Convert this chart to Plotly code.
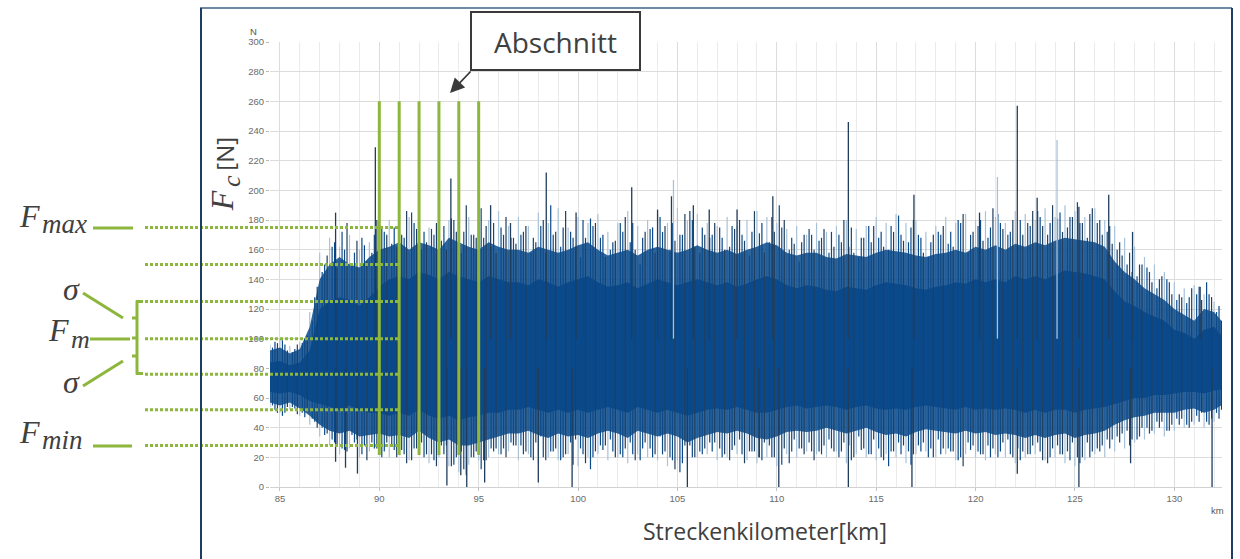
import plotly.graph_objects as go

# ---------------- data ----------------
km = [84.5, 85.0, 85.5, 86.0, 86.5, 87.0, 87.5, 88.0, 88.5, 89.0, 89.5, 90.0, 90.5, 91.0, 91.5,
      92.0, 92.5, 93.0, 93.5, 94.0, 94.5, 95.0, 95.5, 96.0, 96.5,
      97.0, 97.5, 98.0, 98.5, 99.0, 99.5, 100.0, 100.5, 101.0, 101.5, 102.0, 102.5, 103.0, 103.5,
      104.0, 104.5, 105.0, 105.5, 106.0, 106.5, 107.0, 107.5, 108.0, 108.5, 109.0, 109.5, 110.0,
      110.5, 111.0, 111.5, 112.0, 112.5, 113.0, 113.5, 114.0, 114.5, 115.0, 115.5, 116.0, 116.5,
      117.0, 117.5, 118.0, 118.5, 119.0, 119.5, 120.0, 120.5, 121.0, 121.5, 122.0, 122.5, 123.0,
      123.5, 124.0, 124.5, 125.0, 125.5, 126.0, 126.5, 127.0,
      127.5, 128.0, 128.5, 129.0, 129.5, 130.0, 130.5, 131.0, 131.5, 132.0, 132.5]

core_hi = [84, 85, 82, 84, 92, 120, 125, 128, 126, 122, 128, 135, 140, 142, 140, 145, 143, 140, 145, 142,
           140, 138, 142, 140, 138,
           138, 136, 140, 138, 135, 138, 140, 142, 138, 135, 136, 138, 134, 137, 140, 138, 136, 138, 140, 138,
           136, 138, 135, 137, 140, 142, 140, 136, 134, 136, 135, 133, 132, 135, 134, 133, 136, 138, 137, 136,
           134, 133, 135, 136, 138, 137, 140, 138, 140, 138, 142, 140, 142, 140, 143, 146, 145, 144, 142, 140,
           132,
           125, 122, 118, 115, 112, 106, 104, 100, 106, 108, 100]
core_lo = [64, 63, 64, 62, 58, 56, 54, 52, 55, 52, 50, 50, 48, 50, 48, 52, 48, 46, 48, 45, 47, 48, 50, 50, 52,
           52, 54, 52, 50, 52, 50, 52, 50, 52, 54, 52, 50, 54, 52, 50, 52, 50, 48, 50, 52,
           53, 52, 54, 52, 50, 50, 52, 54, 55, 53, 54, 55, 54, 52, 54, 55, 53, 52, 53, 52,
           54, 55, 54, 53, 52, 54, 52, 53, 52, 53, 52, 50, 52, 50, 52, 52, 50, 52, 53, 54,
           56,
           58, 60, 60, 62, 62, 63, 64, 64, 63, 65, 66]
fuzz_hi = [92, 94, 90, 93, 108, 140, 150, 155, 150, 148, 155, 160, 162, 165, 160, 165, 163, 160, 168, 165,
           162, 160, 165, 162, 160,
           160, 158, 162, 160, 158, 160, 163, 165, 160, 156, 158, 160, 156, 160, 162, 160, 158, 160, 163, 160,
           158, 160, 157, 160, 162, 165, 163, 158, 156, 158, 158, 155, 154, 157, 156, 155, 158, 160, 159, 158,
           156, 155, 157, 158, 160, 158, 162, 160, 163, 160, 164, 162, 165, 163, 166, 168, 167, 166, 165, 162,
           152,
           145, 140, 134, 130, 126, 120, 116, 112, 120, 118, 110]
fuzz_lo = [57, 55, 57, 53, 48, 42, 38, 36, 38, 34, 35, 36, 34, 35, 33, 38, 33, 30, 32, 28, 28, 30, 32, 34, 36,
           36, 38, 35, 33, 36, 34, 35, 33, 36, 38, 36, 33, 38, 36, 34, 36, 34, 30, 33, 35,
           37, 36, 38, 36, 33, 32, 34, 37, 38, 37, 38, 40, 38, 36, 38, 40, 37, 35, 36, 34,
           37, 39, 38, 37, 36, 38, 36, 37, 35, 36, 35, 33, 35, 33, 35, 36, 33, 35, 36, 38,
           42,
           45, 47, 48, 50, 50, 50, 52, 53, 50, 52, 56]
light_hi = [96, 100, 95, 98, 118, 158, 168, 162, 170, 160, 165, 176, 180, 172, 182, 178, 175, 184, 180, 176,
            182, 174, 180, 186, 176,
            182, 176, 185, 178, 188, 175, 182, 178, 184, 172, 178, 186, 176, 180, 184, 178, 188, 180, 184, 178,
            176, 182, 176, 180, 186, 182, 178, 174, 176, 170, 178, 172, 176, 180, 174, 176, 182, 178, 184, 178,
            180, 172, 176, 182, 178, 184, 180, 186, 182, 178, 186, 184, 180, 188, 182, 190, 186, 182, 188, 180,
            176,
            168, 162, 155, 150, 145, 138, 134, 136, 130, 125, 118]
light_lo = [54, 50, 52, 48, 42, 34, 28, 22, 26, 20, 24, 22, 20, 26, 18, 22, 16, 20, 14, 10, 15, 18, 20, 22, 24,
            18, 22, 16, 20, 18, 22, 14, 20, 22, 18, 20, 16, 22, 20, 18, 14, 18, 12, 20, 22,
            18, 20, 22, 18, 16, 20, 14, 22, 20, 24, 22, 20, 24, 16, 22, 20, 18, 22, 20, 16,
            22, 24, 20, 22, 18, 22, 20, 18, 22, 20, 16, 20, 22, 18, 20, 16, 14, 18, 22, 20,
            24,
            26, 30, 32, 36, 34, 38, 40, 42, 40, 44, 48]

km_q1 = [84.625, 85.125, 85.625, 86.125, 86.625, 87.125, 87.625, 88.125, 88.625, 89.125, 89.625, 90.125,
         90.625, 91.125, 91.625, 92.125, 92.625, 93.125, 93.625, 94.125, 94.625, 95.125, 95.625, 96.125,
         96.625, 97.125, 97.625, 98.125, 98.625, 99.125, 99.625, 100.125, 100.625, 101.125, 101.625,
         102.125, 102.625, 103.125, 103.625, 104.125, 104.625, 105.125, 105.625, 106.125, 106.625,
         107.125, 107.625, 108.125, 108.625, 109.125, 109.625, 110.125, 110.625, 111.125, 111.625,
         112.125, 112.625, 113.125, 113.625, 114.125, 114.625, 115.125, 115.625, 116.125, 116.625,
         117.125, 117.625, 118.125, 118.625, 119.125, 119.625, 120.125, 120.625, 121.125, 121.625,
         122.125, 122.625, 123.125, 123.625, 124.125, 124.625, 125.125, 125.625, 126.125, 126.625,
         127.125, 127.625, 128.125, 128.625, 129.125, 129.625, 130.125, 130.625, 131.125, 131.625, 132.125]
q1_hi = [94, 99, 91, 97, 112,
         145, 162, 172, 150, 168, 158, 176, 164, 170, 185, 160, 174, 166, 181, 158, 170, 188, 162, 175, 168,
         170, 158, 176, 190, 162, 172, 155, 181, 168, 160, 178, 165, 150, 174, 182, 160, 170, 186, 158, 168,
         175, 162, 180, 156, 171, 165, 190, 160, 152, 174, 166, 158, 170, 162, 155, 176, 168, 160, 183, 165,
         170, 155, 172, 164, 180, 158, 176, 168, 184, 170, 162, 178, 186, 170, 181, 175, 192, 168, 178, 172,
         160, 150, 142, 148, 134, 140, 126, 124, 130, 138, 118]
q1_lo = [55, 48, 54, 50, 46,
         40, 32, 26, 35, 22, 30, 20, 28, 25, 18, 30, 22, 28, 14, 24, 20, 12, 26, 22, 30,
         28, 20, 34, 24, 18, 30, 26, 12, 28, 32, 22, 30, 18, 26, 34, 20, 10, 28, 24, 30,
         26, 18, 32, 24, 20, 28, 36, 16, 26, 30, 24, 32, 20, 28, 34, 22, 26, 14, 30, 24,
         28, 20, 32, 26, 18, 30, 24, 28, 20, 32, 26, 22, 30, 16, 28, 24, 20, 30, 26, 32,
         34, 38, 32, 40, 44, 38, 46, 42, 48, 44, 50]

km_q2 = [84.75, 85.25, 85.75, 86.25, 86.75, 87.25, 87.75, 88.25, 88.75, 89.25, 89.75, 90.25, 90.75,
         91.25, 91.75, 92.25, 92.75, 93.25, 93.75, 94.25, 94.75, 95.25, 95.75, 96.25, 96.75,
         97.25, 97.75, 98.25, 98.75, 99.25, 99.75, 100.25, 100.75, 101.25, 101.75, 102.25, 102.75,
         103.25, 103.75, 104.25, 104.75, 105.25, 105.75, 106.25, 106.75, 107.25, 107.75, 108.25,
         108.75, 109.25, 109.75, 110.25, 110.75, 111.25, 111.75, 112.25, 112.75, 113.25, 113.75,
         114.25, 114.75, 115.25, 115.75, 116.25, 116.75, 117.25, 117.75, 118.25, 118.75, 119.25,
         119.75, 120.25, 120.75, 121.25, 121.75, 122.25, 122.75, 123.25, 123.75, 124.25, 124.75,
         125.25, 125.75, 126.25, 126.75,
         127.25, 127.75, 128.25, 128.75, 129.25, 129.75, 130.25, 130.75, 131.25, 131.75, 132.25]
q2_hi = [98, 96, 93, 100, 128, 150, 165, 160, 158, 163, 170, 172, 175, 168, 178, 172, 170, 176, 180, 172,
         170, 168, 178, 170, 168,
         172, 168, 180, 170, 175, 168, 180, 176, 170, 165, 172, 178, 168, 175, 172, 178, 170, 180, 175, 170,
         168, 176, 170, 172, 178, 182, 175, 168, 165, 170, 168, 172, 165, 175, 168, 165, 172, 176, 170, 175,
         168, 165, 170, 172, 178, 170, 180, 175, 178, 172, 180, 176, 182, 178, 185, 182, 178, 184, 180, 176,
         165, 158, 150, 145, 140, 138, 130, 128, 135, 130, 122]
q2_lo = [52, 50, 53, 47, 44, 35, 30, 25, 30, 28, 26, 24, 25, 22, 26, 20, 18, 22, 15, 12, 20, 18, 24, 26, 28,
         22, 18, 20, 24, 20, 15, 22, 20, 25, 24, 20, 22, 26, 20, 22, 18, 16, 20, 22, 24,
         20, 25, 22, 24, 18, 20, 15, 24, 26, 24, 22, 26, 24, 18, 25, 22, 20, 24, 22, 15,
         24, 26, 22, 24, 20, 25, 22, 20, 24, 22, 18, 22, 24, 20, 22, 18, 16, 20, 24, 26,
         30, 28, 34, 36, 40, 38, 42, 40, 44, 42, 46]

km_q3 = [84.875, 85.375, 85.875, 86.375, 86.875, 87.375, 87.875, 88.375, 88.875, 89.375, 89.875, 90.375,
         90.875, 91.375, 91.875, 92.375, 92.875, 93.375, 93.875, 94.375, 94.875, 95.375, 95.875, 96.375,
         96.875, 97.375, 97.875, 98.375, 98.875, 99.375, 99.875, 100.375, 100.875, 101.375, 101.875,
         102.375, 102.875, 103.375, 103.875, 104.375, 104.875, 105.375, 105.875, 106.375, 106.875,
         107.375, 107.875, 108.375, 108.875, 109.375, 109.875, 110.375, 110.875, 111.375, 111.875,
         112.375, 112.875, 113.375, 113.875, 114.375, 114.875, 115.375, 115.875, 116.375, 116.875,
         117.375, 117.875, 118.375, 118.875, 119.375, 119.875, 120.375, 120.875, 121.375, 121.875,
         122.375, 122.875, 123.375, 123.875, 124.375, 124.875, 125.375, 125.875, 126.375, 126.875,
         127.375, 127.875, 128.375, 128.875, 129.375, 129.875, 130.375, 130.875, 131.375, 131.875, 132.375]
q3_hi = [97, 92, 96, 102, 135,
         156, 148, 178, 166, 152, 180, 170, 162, 186, 174, 165, 178, 160, 172, 190, 168, 176, 158, 182, 164,
         176, 165, 158, 172, 186, 162, 168, 178, 155, 166, 182, 160, 172, 158, 176, 166, 184, 162, 170, 178,
         160, 174, 166, 186, 158, 172, 180, 164, 170, 160, 174, 162, 180, 158, 168, 176, 162, 172, 166, 180,
         158, 170, 176, 162, 184, 172, 166, 188, 174, 180, 170, 186, 176, 190, 172, 182, 178, 188, 170, 164,
         156, 145, 150, 138, 142, 130, 128, 134, 126, 128, 112]
q3_lo = [50, 54, 49, 52, 40,
         36, 28, 24, 32, 18, 26, 30, 20, 16, 26, 22, 14, 28, 20, 8, 24, 18, 26, 20, 28,
         24, 30, 18, 26, 22, 32, 16, 24, 28, 20, 26, 18, 30, 22, 24, 12, 28, 20, 26, 30,
         22, 28, 16, 24, 30, 20, 26, 32, 22, 18, 28, 24, 30, 20, 26, 32, 18, 24, 28, 22,
         30, 20, 26, 24, 14, 28, 22, 26, 30, 20, 24, 28, 18, 26, 22, 30, 20, 24, 28, 32,
         36, 32, 40, 38, 44, 42, 46, 44, 50, 46, 52]

# individual tall spikes and deep dips
peak_km = [87.8, 89.8, 93.6, 95.6, 96.6, 98.4, 99.9, 102.7, 104.0, 104.7, 105.8, 106.6, 108.0, 109.8,
           113.6, 116.9, 120.2, 122.1, 123.1, 125.2, 126.7, 127.9, 131.3]
peak_val = [185, 229, 208, 190, 178, 212, 185, 202, 187, 196, 190, 187, 187, 196,
            246, 197, 185, 257, 195, 189, 197, 172, 135]
light_peak_km = [104.8, 121.1, 124.1]
light_peak_val = [207, 209, 234]
dip_km = [87.8, 88.3, 88.9, 93.4, 94.1, 94.4, 95.3, 98.0, 99.7, 105.5, 109.1, 110.1, 113.6, 116.8,
          122.1, 125.2, 127.8, 131.9]
dip_val = [17, 13, 9, 1, 8, 0, 3, 3, 0, 0, 20, 0, 0, 0, 9, 0, 16, 0]

abschnitt_km = [90, 91, 92, 93, 94, 95]
abschnitt_y = [21.5, 260]
stat_levels = [175, 150, 125, 100, 76, 52, 28]

y_ticks = [0, 20, 40, 60, 80, 100, 120, 140, 160, 180, 200, 220, 240, 260, 280, 300]
x_ticks = [85, 90, 95, 100, 105, 110, 115, 120, 125, 130]

# ---------------- styling ----------------
W, H = 1240, 559
ML, MR, MT, MB = 270, 18, 42, 72
PW, PH = W - ML - MR, H - MT - MB

def X(px):
    return (px - ML) / PW

def Y(py):
    return (H - MB - py) / PH

GREEN = "#8DB63C"
CORE = "#0A4A8C"
FUZZ = "rgba(10,74,140,0.86)"
SIG = "#0b4988"
NAVY = "#203f5e"
DARK_SP = "#1f3d5c"
LIGHT_SP = "#a9c2d8"
TXT = "#404040"


def segments(xs, lo, hi):
    sx, sy = [], []
    for x, a, b in zip(xs, lo, hi):
        sx += [x, x, None]
        sy += [a, b, None]
    return sx, sy


fig = go.Figure()

def spikes(xs, lo, hi, color, width=1.2):
    sx, sy = segments(xs, lo, hi)
    fig.add_trace(go.Scatter(x=sx, y=sy, mode="lines", line=dict(color=color, width=width),
                             hoverinfo="skip"))

spikes(km, light_lo, light_hi, LIGHT_SP)
fig.add_trace(go.Scatter(x=km, y=fuzz_lo, mode="lines", line=dict(width=0), hoverinfo="skip"))
fig.add_trace(go.Scatter(x=km, y=fuzz_hi, mode="lines", line=dict(width=0), fill="tonexty",
                         fillcolor=FUZZ, hoverinfo="skip"))
fig.add_trace(go.Scatter(x=km, y=core_lo, mode="lines", line=dict(width=0), hoverinfo="skip"))
fig.add_trace(go.Scatter(x=km, y=core_hi, mode="lines", line=dict(width=0), fill="tonexty",
                         fillcolor=CORE, hoverinfo="skip"))
spikes(km_q1, q1_lo, q1_hi, SIG)
spikes(km_q2, q2_lo, q2_hi, SIG)
spikes(km_q3, q3_lo, q3_hi, NAVY)
spikes(peak_km, [100] * len(peak_km), peak_val, DARK_SP, 1.3)
spikes(light_peak_km, [100] * len(light_peak_km), light_peak_val, LIGHT_SP, 1.3)
spikes(dip_km, dip_val, [80] * len(dip_km), DARK_SP, 1.3)

shapes = []
for k in abschnitt_km:
    shapes.append(dict(type="line", xref="x", yref="y", x0=k, x1=k, y0=abschnitt_y[0], y1=abschnitt_y[1],
                       line=dict(color=GREEN, width=3), layer="above"))
for lv in stat_levels:
    shapes.append(dict(type="line", xref="paper", yref="y", x0=X(145), x1=X(400), y0=lv, y1=lv,
                       line=dict(color=GREEN, width=3, dash="3px,2px"), layer="above"))

def seg(x0, y0, x1, y1, w=3):
    shapes.append(dict(type="line", xref="paper", yref="paper", x0=X(x0), y0=Y(y0), x1=X(x1), y1=Y(y1),
                       line=dict(color=GREEN, width=w), layer="above"))

seg(93, 228, 133, 228)
seg(93, 446, 132, 446)
seg(83, 293, 123, 318)
seg(90, 339, 130, 339)
seg(83, 386, 123, 361)
seg(137, 300.5, 137, 374.5)
seg(136, 301.5, 143, 301.5)
seg(136, 373.5, 143, 373.5)
seg(132, 318, 138, 318)
seg(132, 338, 138, 338)
seg(132, 356, 138, 356)

shapes.append(dict(type="line", xref="paper", yref="paper", x0=X(200), x1=X(1232), y0=Y(8), y1=Y(8),
                   line=dict(color="#6f8aa5", width=2), layer="above"))
shapes.append(dict(type="line", xref="paper", yref="paper", x0=X(201), x1=X(201), y0=Y(8), y1=Y(575),
                   line=dict(color="#1f3d63", width=2), layer="above"))
shapes.append(dict(type="line", xref="paper", yref="paper", x0=X(1232), x1=X(1232), y0=Y(8), y1=Y(575),
                   line=dict(color="#1f3d63", width=2), layer="above"))
shapes.append(dict(type="rect", xref="paper", yref="paper", x0=X(471), x1=X(640), y0=Y(70), y1=Y(12),
                   line=dict(color="#3a3a3a", width=2), fillcolor="white", layer="above"))

SERIF = "Liberation Serif"
SANS = "Open Sans"
ann = []

def txt(t, x, y, size, family=SANS, xanchor="center", angle=0, color=TXT, pad=1):
    ann.append(dict(text=t, x=X(x), y=Y(y), xref="paper", yref="paper", showarrow=False,
                    xanchor=xanchor, yanchor="middle", textangle=angle, borderpad=pad,
                    font=dict(family=family, size=size, color=color)))

txt("Abschnitt", 555.5, 42, 28)
ann.append(dict(text="", x=X(450), y=Y(93), xref="paper", yref="paper", showarrow=True,
                ax=22, ay=-23, arrowhead=2, arrowsize=1.6, arrowwidth=1.8, arrowcolor="#3a3a3a"))

txt("Streckenkilometer[km]", 764.5, 531, 23)
txt("N", 253.5, 31.5, 9.5, family="Liberation Sans", color="#555555")
txt("km", 1217.5, 510.5, 9.5, family="Liberation Sans", color="#555555")

# y title
txt("[N]", 223.7, 154, 24, angle=-90)
txt("<i>F</i>", 222.3, 201, 32, family=SERIF, angle=-90)
txt("<i>c</i>", 231, 181, 26, family=SERIF, angle=-90)

# left legend labels
def fsub(sub, f_right, base_f, base_s, s_size):
    txt("<i>F</i>", f_right, base_f - 10.8, 32, family=SERIF, xanchor="right", pad=0)
    txt("<i>" + sub + "</i>", f_right, base_s - 0.3375 * s_size, s_size, family=SERIF,
        xanchor="left", pad=0)

fsub("max", 41, 227, 233.5, 27)
txt("<i>σ</i>", 61, 289.2, 32, family=SERIF, xanchor="left")
fsub("m", 70, 341, 348, 26)
txt("<i>σ</i>", 61, 382.2, 32, family=SERIF, xanchor="left")
fsub("min", 41, 443, 449, 27)

fig.update_layout(
    width=W, height=H, margin=dict(l=ML, r=MR, t=MT, b=MB),
    paper_bgcolor="white", plot_bgcolor="white", showlegend=False,
    shapes=shapes, annotations=ann,
    xaxis=dict(range=[84.5, 132.4], tickvals=x_ticks, showgrid=True, gridcolor="#dcdcdc", gridwidth=1,
               minor=dict(dtick=1, tick0=85, showgrid=True, gridcolor="#ebebeb", ticks=""),
               ticks="outside", ticklen=3, tickcolor="#c4c4c4", showline=True, linecolor="#d2d2d2",
               zeroline=False, tickfont=dict(family="Liberation Sans", size=9.5, color="#6a6a6a")),
    yaxis=dict(range=[0, 300], tickvals=y_ticks, showgrid=True, gridcolor="#dcdcdc", gridwidth=1,
               ticks="outside", ticklen=3, tickcolor="#b8b8b8", showline=False, zeroline=False,
               tickfont=dict(family="Liberation Sans", size=9.5, color="#6a6a6a")),
)

fig.write_html("out.html")
